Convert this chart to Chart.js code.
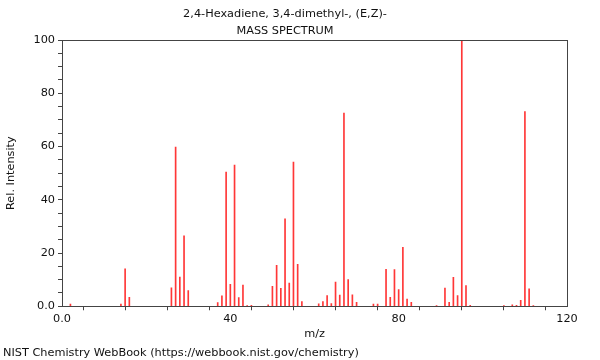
<!DOCTYPE html>
<html>
<head>
<meta charset="utf-8">
<script src="https://cdn.jsdelivr.net/npm/chart.js@4/dist/chart.umd.min.js"></script>
<style>
  html, body { margin: 0; padding: 0; background: #fff; }
  #wrap { width: 600px; height: 360px; }
</style>
</head>
<body>
<div id="wrap"><canvas id="c" width="600" height="360"></canvas></div>
<script>
const titleLines = ["2,4-Hexadiene, 3,4-dimethyl-, (E,Z)-", "MASS SPECTRUM"];
const footerText = "NIST Chemistry WebBook (https://webbook.nist.gov/chemistry)";
const xTitle = "m/z";
const yTitle = "Rel. Intensity";

const mz = [2, 14, 15, 16, 26, 27, 28, 29, 30, 37, 38, 39, 40, 41, 42, 43, 44, 45, 49, 50,
            51, 52, 53, 54, 55, 56, 57, 61, 62, 63, 64, 65, 66, 67, 68, 69, 70, 74, 75, 77,
            78, 79, 80, 81, 82, 83, 89, 91, 92, 93, 94, 95, 96, 97, 105, 107, 108, 109, 110, 111, 112];
const intensity = [0.8, 0.8, 14.1, 3.4, 6.9, 59.8, 11.0, 26.5, 5.9, 1.4, 3.9, 50.4, 8.2, 53.0, 3.3, 8.0, 0.3, 0.4, 0.5, 7.5,
            15.4, 6.7, 32.8, 8.7, 54.2, 15.8, 1.8, 0.9, 1.8, 4.0, 1.0, 9.1, 4.2, 72.6, 10.0, 4.3, 1.5, 0.8, 0.8, 13.9,
            3.4, 13.8, 6.3, 22.1, 2.7, 1.5, 0.3, 6.8, 1.5, 10.9, 4.0, 100, 7.8, 0.4, 0.3, 0.5, 0.4, 2.2, 73.1, 6.6, 0.3];
const xLabelTicks = [0, 40, 80, 120];
const yLabelTicks = [0, 20, 40, 60, 80, 100];

const FONT = "'DejaVu Sans', sans-serif";
const FS = 11.3;
const AXIS = '#444';

const frame = {
  id: 'frame',
  afterDraw(chart) {
    const a = chart.chartArea, ctx = chart.ctx;
    ctx.save();
    ctx.strokeStyle = AXIS;
    ctx.lineWidth = 1;
    ctx.strokeRect(Math.round(a.left) + 0.5, Math.round(a.top) + 0.5,
                   Math.round(a.right - a.left), Math.round(a.bottom - a.top));
    ctx.restore();
  }
};

function fmt(v) { return v === 0 ? '0.0' : String(v); }

new Chart(document.getElementById('c'), {
  type: 'bar',
  data: {
    datasets: [{
      data: mz.map((m, i) => ({ x: m, y: intensity[i] })),
      backgroundColor: 'rgba(255,20,20,0.85)',
      borderWidth: 0,
      barThickness: 1
    }]
  },
  options: {
    responsive: false,
    animation: false,
    events: [],
    layout: { padding: { left: 3, right: 33, top: 0, bottom: 0 } },
    plugins: {
      legend: { display: false },
      tooltip: { enabled: false },
      title: {
        display: true,
        text: titleLines,
        color: '#111',
        font: { family: FONT, size: FS, weight: 'normal', lineHeight: 1.55 },
        padding: { top: 5, bottom: 0 }
      },
      subtitle: {
        display: true,
        position: 'bottom',
        align: 'start',
        text: footerText,
        color: '#111',
        font: { family: FONT, size: FS, weight: 'normal', lineHeight: 1.2 },
        padding: { top: 5, bottom: 0.3 }
      }
    },
    scales: {
      x: {
        type: 'linear',
        min: 0, max: 120,
        offset: false,
        border: { display: false },
        grid: { display: true, drawOnChartArea: false, drawTicks: true, tickLength: 4, color: AXIS },
        ticks: {
          stepSize: 10, autoSkip: false, maxRotation: 0,
          color: '#111', padding: 3,
          font: { family: FONT, size: FS, lineHeight: 1.0 },
          callback: v => xLabelTicks.includes(v) ? fmt(v) : ''
        },
        title: {
          display: true, text: xTitle, color: '#111',
          font: { family: FONT, size: FS, lineHeight: 1.2 },
          padding: { top: 0, bottom: 0 }
        }
      },
      y: {
        min: 0, max: 100,
        border: { display: false },
        grid: { display: true, drawOnChartArea: false, drawTicks: true, tickLength: 4, color: AXIS },
        ticks: {
          stepSize: 5, autoSkip: false,
          color: '#111', padding: 3,
          font: { family: FONT, size: FS },
          callback: v => yLabelTicks.includes(v) ? fmt(v) : ''
        },
        title: {
          display: true, text: yTitle, color: '#111',
          font: { family: FONT, size: FS, lineHeight: 1.2 },
          padding: { top: 1, bottom: 0 }
        },
        afterFit(scale) { scale.width = 59; }
      }
    }
  },
  plugins: [frame]
});
</script>
</body>
</html>
